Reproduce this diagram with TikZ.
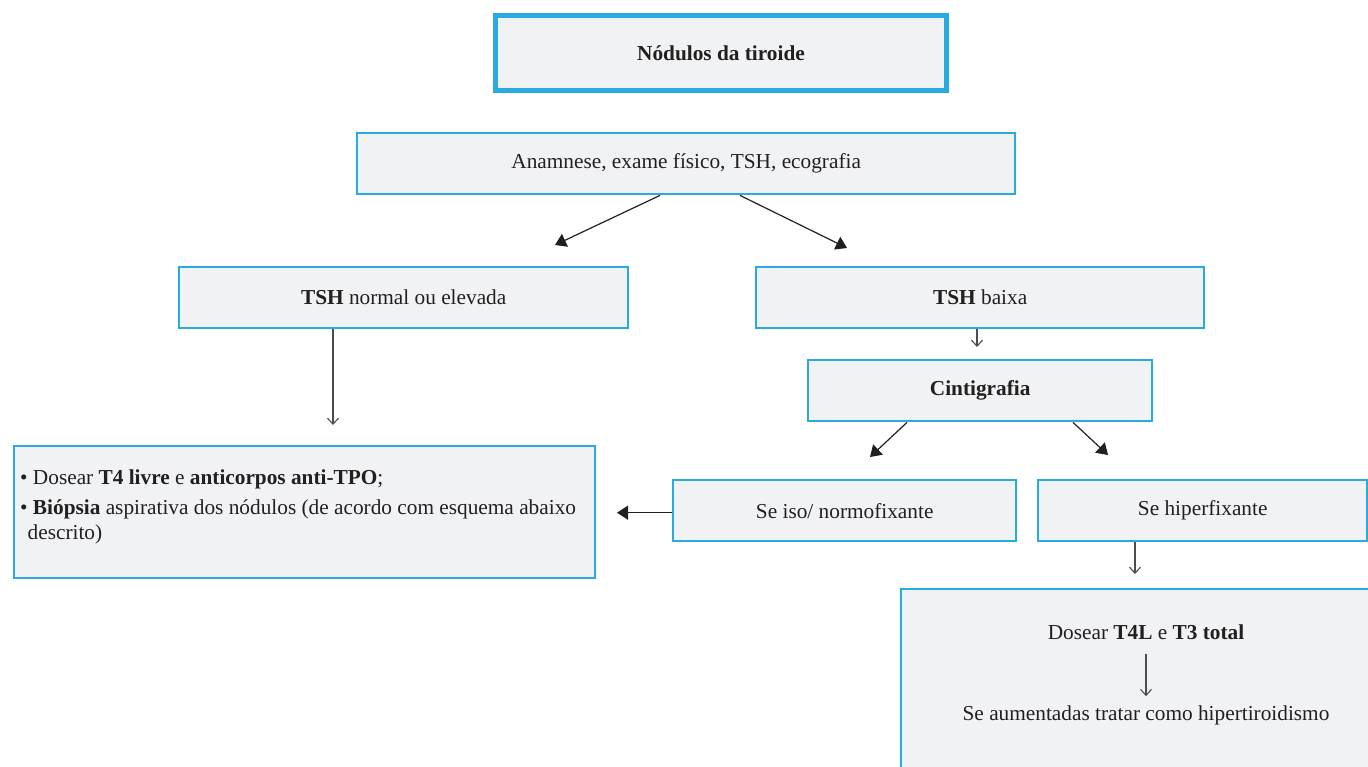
\documentclass[tikz,border=0pt]{standalone}
\usepackage{fontspec}
\setmainfont{Liberation Serif}
\usetikzlibrary{arrows.meta,calc}
\definecolor{boxline}{RGB}{41,171,226}
\definecolor{boxfill}{RGB}{241,242,244}
\definecolor{ink}{RGB}{35,31,32}
\tikzset{
  box/.style={draw=boxline, fill=boxfill, line width=2.4pt, inner sep=0pt,
    font=\fontsize{21.3}{25.5}\selectfont, text=ink},
  titlebox/.style={box, line width=5pt},
  fillarrow/.style={draw=ink, line width=1.2pt, -{Triangle[length=11pt,width=14pt]}},
  openarrow/.style={draw=ink!80, line width=1.3pt, -{Straight Barb[length=6pt,width=11pt,line width=1.1pt]}},
  txt/.style={font=\fontsize{21.3}{25.5}\selectfont, text=ink, inner sep=0pt},
}
\begin{document}
\begin{tikzpicture}[x=1pt,y=-1pt]
\useasboundingbox (0,0) rectangle (1368,767);
\clip (0,0) rectangle (1368,767);

% boxes
\node[titlebox, minimum width=451, minimum height=75, anchor=north west] (title) at (493,13.5) {\textbf{Nódulos da tiroide}};
\node[box, minimum width=658, minimum height=61, anchor=north west] (exam) at (356,132) {\raisebox{4pt}{Anamnese, exame físico, TSH, ecografia}};
\node[box, minimum width=449, minimum height=61, anchor=north west] (tshn) at (178,266) {\textbf{TSH} normal ou elevada};
\node[box, minimum width=448, minimum height=61, anchor=north west] (tshb) at (755,266) {\textbf{TSH} baixa};
\node[box, minimum width=344, minimum height=61, anchor=north west] (cinti) at (807,359) {\textbf{Cintigrafia}};
\node[box, minimum width=581, minimum height=132, anchor=north west] (dose) at (13,445) {};
\node[txt, anchor=north west, align=left] (dosetxt) at (20,470) {%
  • Dosear \textbf{T4 livre} e \textbf{anticorpos anti-TPO};\\[4pt]
  • \textbf{Biópsia} aspirativa dos nódulos (de acordo com esquema abaixo\\
  \hphantom{•}descrito)};
\node[box, minimum width=343, minimum height=61, anchor=north west] (iso) at (672,479) {\raisebox{-3pt}{Se iso/ normofixante}};
\node[box, minimum width=329, minimum height=61, anchor=north west] (hiper) at (1037,479) {\raisebox{-3pt}{Se hiperfixante}};
\node[box, minimum width=480, minimum height=200, anchor=north west] (final) at (900,588) {};
\node[txt] (t4l) at (1146,632) {Dosear \textbf{T4L} e \textbf{T3 total}};
\node[txt] (aum) at (1146,715) {Se aumentadas tratar como hipertiroidismo};

% free ends of the connectors
\coordinate (eL) at (555,245);
\coordinate (eR) at (847,248);
\coordinate (eN) at (333,425);
\coordinate (eB) at (977,347);
\coordinate (eCL) at (870,457);
\coordinate (eCR) at (1108,455);
\coordinate (eI) at (617,0);
\coordinate (eH) at (1135,574);

% connectors
\draw[fillarrow] (exam.south -| 660,0) -- (eL);
\draw[fillarrow] (exam.south -| 740,0) -- (eR);
\draw[openarrow] (tshn.south -| 333,0) -- (eN);
\draw[openarrow] (tshb.south -| 977,0) -- (eB);
\draw[fillarrow] (cinti.south -| 907,0) -- (eCL);
\draw[fillarrow] (cinti.south -| 1073,0) -- (eCR);
\draw[fillarrow] ([yshift=-2pt]iso.west) -- ([yshift=-2pt]iso.west -| eI);
\draw[openarrow] (hiper.south -| 1135,0) -- (eH);
\draw[openarrow] ($(t4l.south)+(0,14)$) -- ($(aum.north)+(0,-9)$);
\end{tikzpicture}
\end{document}
